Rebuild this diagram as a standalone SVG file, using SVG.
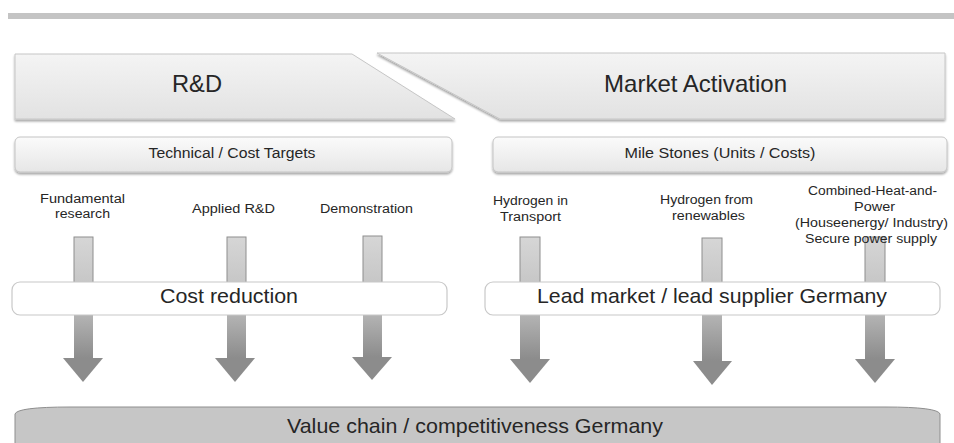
<svg xmlns="http://www.w3.org/2000/svg" width="954" height="443" viewBox="0 0 954 443">
<defs>
<linearGradient id="gTitle" x1="0" y1="0" x2="0" y2="1">
<stop offset="0" stop-color="#f4f4f4"/><stop offset="1" stop-color="#e2e2e2"/>
</linearGradient>
<linearGradient id="gTarget" x1="0" y1="0" x2="0" y2="1">
<stop offset="0" stop-color="#fbfbfb"/><stop offset="1" stop-color="#e6e6e6"/>
</linearGradient>
<linearGradient id="gPillar" x1="0" y1="0" x2="0" y2="1">
<stop offset="0" stop-color="#d6d6d6"/><stop offset="1" stop-color="#c2c2c2"/>
</linearGradient>
<linearGradient id="gShaft" x1="0" y1="0" x2="0" y2="1">
<stop offset="0" stop-color="#b8b8b8"/><stop offset="1" stop-color="#8c8c8c"/>
</linearGradient>
<filter id="sh" x="-5%" y="-10%" width="110%" height="130%">
<feDropShadow dx="0" dy="2" stdDeviation="1" flood-color="#000" flood-opacity="0.35"/>
</filter>
</defs>
<style>
text{font-family:"Liberation Sans",Arial,sans-serif;fill:#262626;text-anchor:middle}
.title{fill:url(#gTitle);stroke:#c6c6c6;stroke-width:1;filter:url(#sh)}
.target{fill:url(#gTarget);stroke:#c4c4c4;stroke-width:1;filter:url(#sh)}
.band{fill:#fff;stroke:#c8c8c8;stroke-width:1.2}
.pillar{fill:url(#gPillar);stroke:#8e8e8e;stroke-width:1}
.shaft{fill:url(#gShaft)}
.head{fill:#8c8c8c}
.t24{font-size:24px}
.t14{font-size:14px}
.t12{font-size:12px}
.t21{font-size:21px}
</style>
<rect x="8" y="13" width="946" height="6" fill="#c4c4c4"/>
<g id="rd">
<polygon class="title" points="15,54 352,54 455,119 15,119"/>
<text class="t24" x="197" y="92" textLength="50" lengthAdjust="spacingAndGlyphs">R&amp;D</text>
</g>
<g id="market">
<polygon class="title" points="377,53 945,53 945,119 500,119"/>
<text class="t24" x="695.5" y="92" textLength="183" lengthAdjust="spacingAndGlyphs">Market Activation</text>
</g>
<g id="targets">
<rect class="target" x="15" y="137" width="437" height="35" rx="5"/>
<text class="t14" x="232" y="158" textLength="167" lengthAdjust="spacingAndGlyphs">Technical / Cost Targets</text>
</g>
<g id="milestones">
<rect class="target" x="493" y="137" width="454" height="35" rx="5"/>
<text class="t14" x="720" y="158" textLength="191" lengthAdjust="spacingAndGlyphs">Mile Stones  (Units / Costs)</text>
</g>
<g id="connectors">
<g id="a1"><rect class="pillar" x="74" y="237" width="19" height="60"/><polygon class="shaft" points="74,310 93,310 93,358 74,358"/><polygon class="head" points="63,358 103,358 83,382"/></g>
<g id="a2"><rect class="pillar" x="227" y="237" width="19" height="60"/><polygon class="shaft" points="227,310 246,310 246,358 227,358"/><polygon class="head" points="215,358 255,358 235,382"/></g>
<g id="a3"><rect class="pillar" x="363" y="236" width="19" height="60"/><polygon class="shaft" points="363,310 382,310 382,357 363,357"/><polygon class="head" points="352,357 392,357 372,380"/></g>
<g id="a4"><rect class="pillar" x="520" y="237" width="20" height="60"/><polygon class="shaft" points="520,310 540,310 540,359 520,359"/><polygon class="head" points="510,359 550,359 530,383"/></g>
<g id="a5"><rect class="pillar" x="702" y="238" width="20" height="60"/><polygon class="shaft" points="702,310 722,310 722,361 702,361"/><polygon class="head" points="693,361 732,361 712,385"/></g>
<g id="a6"><rect class="pillar" x="865" y="237" width="20" height="60"/><polygon class="shaft" points="865,310 885,310 885,359 865,359"/><polygon class="head" points="855,359 895,359 875,383"/></g>
</g>
<g id="l-fund">
<text class="t12" x="82.5" y="203" textLength="85" lengthAdjust="spacingAndGlyphs">Fundamental</text>
<text class="t12" x="82.5" y="218" textLength="55" lengthAdjust="spacingAndGlyphs">research</text>
</g>
<g id="l-applied">
<text class="t12" x="233.5" y="213" textLength="83" lengthAdjust="spacingAndGlyphs">Applied R&amp;D</text>
</g>
<g id="l-demo">
<text class="t12" x="366.5" y="213" textLength="93" lengthAdjust="spacingAndGlyphs">Demonstration</text>
</g>
<g id="l-transport">
<text class="t12" x="530.5" y="205" textLength="75" lengthAdjust="spacingAndGlyphs">Hydrogen in</text>
<text class="t12" x="530.5" y="221" textLength="61" lengthAdjust="spacingAndGlyphs">Transport</text>
</g>
<g id="l-renew">
<text class="t12" x="706.5" y="204" textLength="93" lengthAdjust="spacingAndGlyphs">Hydrogen from</text>
<text class="t12" x="708.5" y="220" textLength="73" lengthAdjust="spacingAndGlyphs">renewables</text>
</g>
<g id="l-chp">
<text class="t12" x="872.5" y="195" textLength="129" lengthAdjust="spacingAndGlyphs">Combined-Heat-and-</text>
<text class="t12" x="874.5" y="211" textLength="41" lengthAdjust="spacingAndGlyphs">Power</text>
<text class="t12" x="871.5" y="227" textLength="153" lengthAdjust="spacingAndGlyphs">(Houseenergy/ Industry)</text>
<text class="t12" x="871" y="243" textLength="132" lengthAdjust="spacingAndGlyphs">Secure power supply</text>
</g>
<g id="cost">
<rect class="band" x="12" y="282" width="435" height="33" rx="8"/>
<text class="t21" x="229" y="303" textLength="138" lengthAdjust="spacingAndGlyphs">Cost reduction</text>
</g>
<g id="lead">
<rect class="band" x="485" y="282" width="455" height="33" rx="8"/>
<text class="t21" x="712" y="303" textLength="350" lengthAdjust="spacingAndGlyphs">Lead market / lead supplier Germany</text>
</g>
<g id="value">
<path d="M15,444 L15,414 Q17,407 70,407 L885,407 Q938,407 940,414 L940,444 Z" fill="#c6c6c6" stroke="#8e8e8e" stroke-width="1"/>
<text class="t21" x="475" y="433" textLength="376" lengthAdjust="spacingAndGlyphs">Value chain / competitiveness Germany</text>
</g>
</svg>
